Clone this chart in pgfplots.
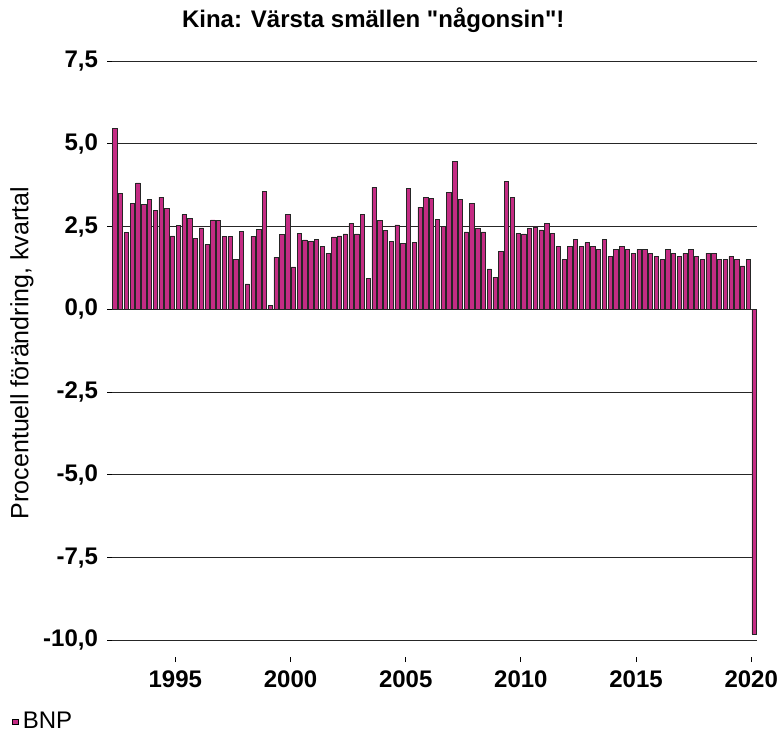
\documentclass[border=0pt]{standalone}
\usepackage{pgfplots}
\pgfplotsset{compat=1.18}
\usepackage{fontspec}
\setmainfont{Liberation Sans}
\definecolor{barpink}{RGB}{196,44,132}
\begin{document}
\begin{tikzpicture}
\path[use as bounding box] (0,0) rectangle (390pt,368pt);
\begin{axis}[
  at={(56pt,39.5pt)}, anchor=south west,
  scale only axis,
  width=322.5pt, height=298pt,
  xmin=1992.125, xmax=2020.125,
  ymin=-10.5, ymax=7.5,
  axis line style={draw=none},
  tick pos=left,
  tick align=outside,
  major tick length=2.5pt,
  tick style={black, line width=0.4pt},
  xtick={1994.875,1999.875,2004.875,2009.875,2014.875,2019.875},
  xticklabels={1995,2000,2005,2010,2015,2020},
  ytick={-10,-7.5,-5,-2.5,0,2.5,5,7.5},
  yticklabels={{-10,0},{-7,5},{-5,0},{-2,5},{0,0},{2,5},{5,0},{7,5}},
  ticklabel style={font=\bfseries\fontsize{12}{14}\selectfont},
  xticklabel style={yshift=-1pt},
  yticklabel style={xshift=-1pt},
  ymajorgrids,
  grid style={black!85, line width=0.5pt},
  title={Kina: Värsta smällen \textquotedbl någonsin\textquotedbl!},
  title style={font=\bfseries\fontsize{12}{14}\selectfont, at={(0.405,1)}, anchor=base, yshift=11pt},
  ylabel={Procentuell förändring, kvartal},
  ylabel style={font=\fontsize{12.5}{14}\selectfont, at={(-0.1395,0.51)}, anchor=center},
  legend style={draw=none, fill=none, at={(-0.155,-0.109)}, anchor=west, inner sep=0pt,
    font=\fontsize{12}{14}\selectfont},
  legend cell align=left,
  ybar, bar width=2.15pt,
]
\addplot[fill=barpink, draw=black!85, line width=0.3pt,
  legend image code/.code={\draw[fill=barpink, draw=black, line width=0.4pt] (0pt,-1.4pt) rectangle (2.8pt,1.4pt);}] coordinates {
(1992.25,5.47) (1992.5,3.51) (1992.75,2.33)
(1993.0,3.20) (1993.25,3.82) (1993.5,3.18) (1993.75,3.32)
(1994.0,2.98) (1994.25,3.39) (1994.5,3.06) (1994.75,2.22)
(1995.0,2.53) (1995.25,2.86) (1995.5,2.75) (1995.75,2.15)
(1996.0,2.46) (1996.25,1.96) (1996.5,2.70) (1996.75,2.69)
(1997.0,2.20) (1997.25,2.20) (1997.5,1.50) (1997.75,2.36)
(1998.0,0.77) (1998.25,2.20) (1998.5,2.41) (1998.75,3.55)
(1999.0,0.13) (1999.25,1.57) (1999.5,2.26) (1999.75,2.86)
(2000.0,1.28) (2000.25,2.30) (2000.5,2.10) (2000.75,2.06)
(2001.0,2.12) (2001.25,1.91) (2001.5,1.69) (2001.75,2.19)
(2002.0,2.22) (2002.25,2.28) (2002.5,2.59) (2002.75,2.28)
(2003.0,2.87) (2003.25,0.93) (2003.5,3.68) (2003.75,2.68)
(2004.0,2.39) (2004.25,2.05) (2004.5,2.55) (2004.75,1.99)
(2005.0,3.65) (2005.25,2.01) (2005.5,3.09) (2005.75,3.38)
(2006.0,3.35) (2006.25,2.72) (2006.5,2.51) (2006.75,3.54)
(2007.0,4.47) (2007.25,3.31) (2007.5,2.34) (2007.75,3.20)
(2008.0,2.45) (2008.25,2.34) (2008.5,1.22) (2008.75,0.97)
(2009.0,1.74) (2009.25,3.86) (2009.5,3.37) (2009.75,2.29)
(2010.0,2.28) (2010.25,2.44) (2010.5,2.49) (2010.75,2.40)
(2011.0,2.59) (2011.25,2.30) (2011.5,1.91) (2011.75,1.50)
(2012.0,1.91) (2012.25,2.11) (2012.5,1.91) (2012.75,2.01)
(2013.0,1.91) (2013.25,1.80) (2013.5,2.11) (2013.75,1.60)
(2014.0,1.80) (2014.25,1.91) (2014.5,1.80) (2014.75,1.70)
(2015.0,1.80) (2015.25,1.80) (2015.5,1.70) (2015.75,1.60)
(2016.0,1.50) (2016.25,1.80) (2016.5,1.70) (2016.75,1.60)
(2017.0,1.70) (2017.25,1.80) (2017.5,1.60) (2017.75,1.50)
(2018.0,1.70) (2018.25,1.70) (2018.5,1.50) (2018.75,1.50)
(2019.0,1.60) (2019.25,1.50) (2019.5,1.31) (2019.75,1.50)
(2020.0,-9.80)
};
\addlegendentry{BNP}
\end{axis}
\end{tikzpicture}
\end{document}
